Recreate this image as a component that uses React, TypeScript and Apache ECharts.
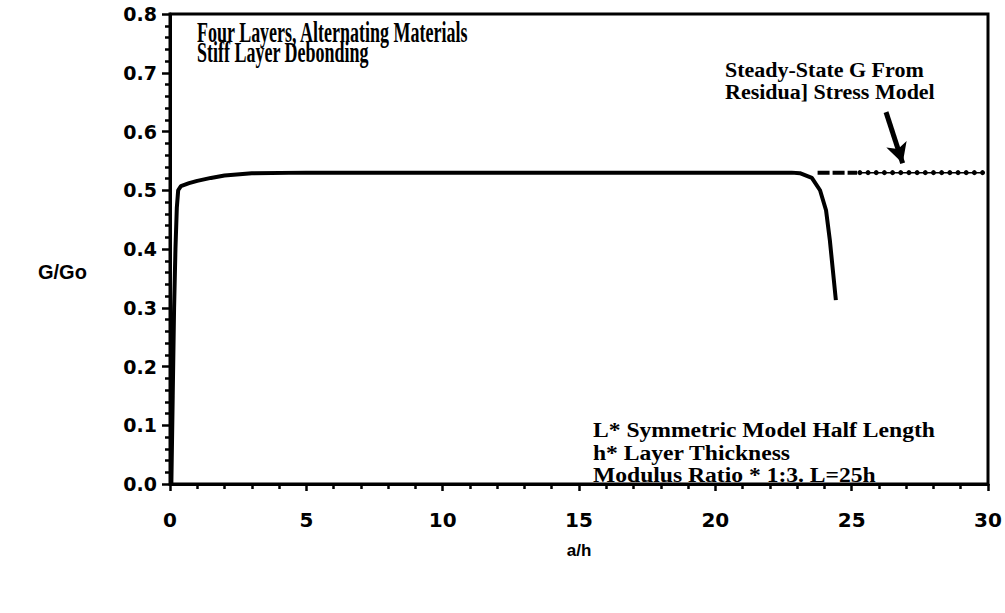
import React, { useEffect, useRef } from "react";
import * as echarts from "echarts";

// Main G/Go curve (a/h, G/Go)
const curveX = [0.05, 0.1, 0.15, 0.2, 0.25, 0.3, 0.4, 0.7, 1.0, 1.5, 2.0, 3.0, 5.0, 10.0, 15.0, 20.0, 22.8, 23.1, 23.54, 23.84, 24.06, 24.2, 24.31, 24.42];
const curveY = [0.0, 0.15, 0.3, 0.4, 0.47, 0.5, 0.507, 0.512, 0.516, 0.521, 0.525, 0.529, 0.53, 0.53, 0.53, 0.53, 0.53, 0.529, 0.521, 0.5, 0.466, 0.415, 0.364, 0.313];

// Steady-state G from residual stress model
const steadyValue = 0.53;
const steadyDashX = [23.75, 25.2];
const steadyDotX = [25.3, 25.6, 25.9, 26.2, 26.5, 26.8, 27.1, 27.4, 27.7, 28.0, 28.3, 28.6, 28.9, 29.2, 29.5, 29.8];

// Arrow pointing to the steady-state line
const arrowFrom = [26.26, 0.633];
const arrowTo = [26.87, 0.546];

const xTicks = [0, 5, 10, 15, 20, 25, 30];
const yTicks = [0.0, 0.1, 0.2, 0.3, 0.4, 0.5, 0.6, 0.7, 0.8];

const titleLines = ["Four Layers, Alternating Materials", "Stiff Layer Debonding"];
const steadyLabel = ["Steady-State G From", "Residua] Stress Model"];
const noteLines = ["L* Symmetric Model Half Length", "h* Layer Thickness", "Modulus Ratio * 1:3. L=25h"];

export default function App() {
  const ref = useRef<HTMLDivElement>(null);
  useEffect(() => {
    if (!ref.current) return;
    const chart = echarts.init(ref.current, null, { renderer: "svg" });
    const serif = "'Liberation Serif', 'Times New Roman', serif";
    const sans = "'DejaVu Sans', sans-serif";
    const txt = (x: number, y: number, text: string, size: number, sx: number) => ({
      type: "text",
      x,
      y,
      scaleX: sx,
      style: {
        text,
        font: `bold ${size}px ${serif}`,
        fill: "#000",
        textVerticalAlign: "middle",
        verticalAlign: "middle",
      },
    });
    chart.setOption({
      animation: false,
      backgroundColor: "#fff",
      grid: {
        left: 170,
        right: 17,
        top: 14,
        bottom: 129,
        show: true,
        borderColor: "#000",
        borderWidth: 3,
      },
      xAxis: {
        type: "value",
        min: xTicks[0],
        max: xTicks[xTicks.length - 1],
        interval: 5,
        name: "a/h",
        nameLocation: "middle",
        nameGap: 58,
        nameTextStyle: { fontFamily: "'Liberation Sans', Arial, sans-serif", fontWeight: "bold", fontSize: 17, color: "#000" },
        axisLine: { show: true, lineStyle: { color: "#000", width: 3 } },
        axisTick: { show: true, inside: false, length: 7, lineStyle: { color: "#000", width: 2.5 } },
        minorTick: { show: true, splitNumber: 5, length: 5, lineStyle: { color: "#000", width: 2.5 } },
        splitLine: { show: false },
        axisLabel: {
          margin: 26,
          fontFamily: sans,
          fontWeight: "bold",
          fontSize: 20,
          color: "#000",
          formatter: (v: number) => String(v),
        },
      },
      yAxis: {
        type: "value",
        min: yTicks[0],
        max: yTicks[yTicks.length - 1],
        interval: 0.1,
        axisLine: { show: true, lineStyle: { color: "#000", width: 3 } },
        axisTick: { show: true, inside: false, length: 8, lineStyle: { color: "#000", width: 2.5 } },
        minorTick: { show: true, splitNumber: 5, length: 5, lineStyle: { color: "#000", width: 2.5 } },
        splitLine: { show: false },
        axisLabel: {
          margin: 13,
          fontFamily: sans,
          fontWeight: "bold",
          fontSize: 19,
          color: "#000",
          formatter: (v: number) => v.toFixed(1),
        },
      },
      graphic: [
        txt(197, 32, titleLines[0], 30, 0.6),
        txt(197, 52, titleLines[1], 30, 0.6),
        txt(725, 70, steadyLabel[0], 20, 1.1),
        txt(725, 92, steadyLabel[1], 20, 1.1),
        txt(593, 431, noteLines[0], 20, 1.18),
        txt(593, 454, noteLines[1], 20, 1.18),
        txt(593, 476, noteLines[2], 20, 1.18),
        {
          type: "text",
          x: 38,
          y: 272,
          style: {
            text: "G/Go",
            font: `bold 20px 'Liberation Sans', Arial, sans-serif`,
            fill: "#000",
            verticalAlign: "middle",
            textVerticalAlign: "middle",
          },
        },
      ],
      series: [
        {
          type: "line",
          data: curveX.map((x, i) => [x, curveY[i]]),
          showSymbol: false,
          symbol: "none",
          smooth: false,
          lineStyle: { color: "#000", width: 4 },
        },
        {
          type: "line",
          data: steadyDashX.map((x) => [x, steadyValue]),
          symbol: "none",
          lineStyle: { color: "#000", width: 4, type: [12, 3] },
        },
        {
          type: "line",
          data: steadyDotX.map((x) => [x, steadyValue]),
          symbol: "circle",
          symbolSize: 5,
          itemStyle: { color: "#000" },
          lineStyle: { color: "#000", width: 1.5 },
          markLine: {
            silent: true,
            symbol: ["none", "arrow"],
            symbolSize: [16, 20],
            label: { show: false },
            lineStyle: { color: "#000", width: 5, type: "solid" },
            data: [[{ coord: arrowFrom }, { coord: arrowTo }]],
          },
        },
      ],
    });
    return () => chart.dispose();
  }, []);
  return (
    <div
      ref={ref}
      style={{ position: "fixed", left: 0, top: 0, width: 1005, height: 613 }}
    />
  );
}
